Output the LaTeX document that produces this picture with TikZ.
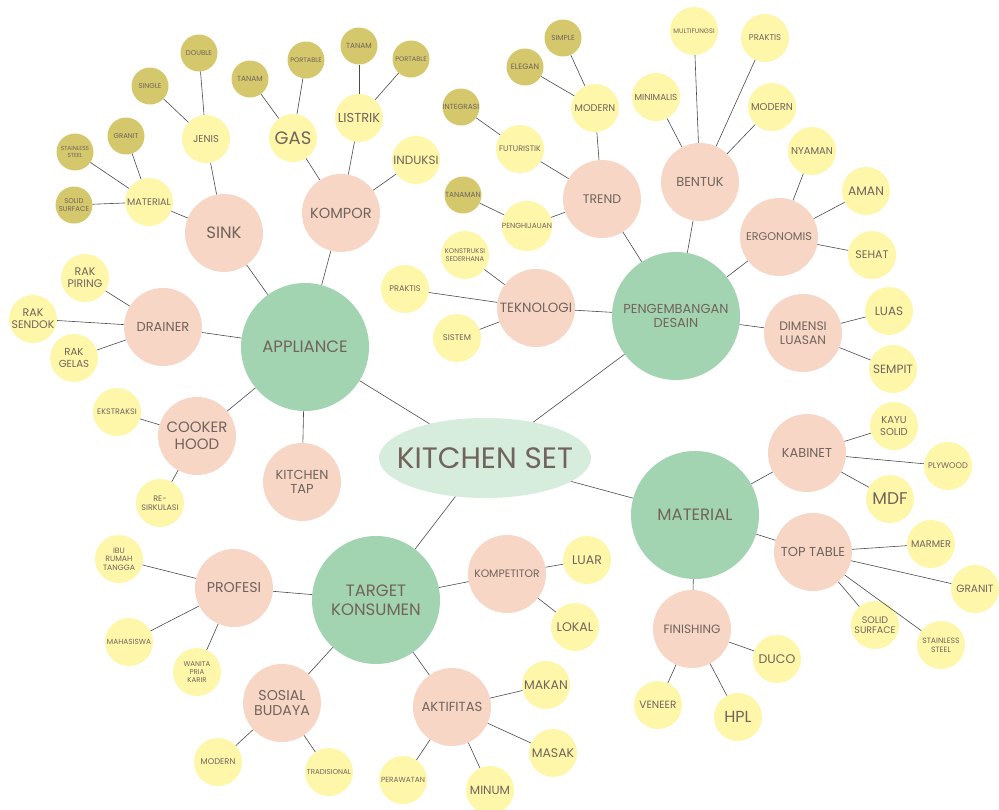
\documentclass[tikz,border=0pt]{standalone}
\usepackage{fontspec}
\setmainfont{Poppins}
\usepackage{xcolor}
\usetikzlibrary{shapes.geometric}
\definecolor{khub}{RGB}{214,236,220}
\definecolor{kgreen}{RGB}{163,212,177}
\definecolor{kpink}{RGB}{247,214,198}
\definecolor{kyellow}{RGB}{254,247,170}
\definecolor{kolive}{RGB}{213,199,108}
\definecolor{ktext}{RGB}{112,100,92}
\definecolor{kline}{RGB}{75,75,75}
\tikzset{fs/.code={\pgfmathsetmacro\fsskip{1.12*#1}\pgfkeysalso{font=\fontsize{#1}{\fsskip}\selectfont}},
bubble/.style={circle, inner sep=0pt, align=center, text=ktext},
hub/.style={ellipse, fill=khub, minimum width=212pt, minimum height=80pt, inner sep=0pt, text=ktext, fs=29.5},
topic/.style={bubble, fill=kgreen, minimum size=128pt, fs=16.5},
branch/.style={bubble, fill=kpink, minimum size=78pt, fs=13},
leaf/.style={bubble, fill=kyellow, minimum size=48pt, fs=9},
twig/.style={bubble, fill=kolive, minimum size=37pt, fs=7},
link/.style={draw=kline, line width=0.6pt}}

\begin{document}
\begin{tikzpicture}[x=1pt, y=-1pt]
\useasboundingbox[fill=white] (0,0) rectangle (999,809);
\node[hub] (hub) at (485,458) {\makebox[0pt]{KITCHEN SET}};
% main topics
\node[topic] (app) at (305,347) {APPLIANCE};
\node[topic, fs=13] (dev) at (676,316) {PENGEMBANGAN\\DESAIN};
\node[topic] (mat) at (695,515) {MATERIAL};
\node[topic] (tgt) at (376,600) {TARGET\\KONSUMEN};
% appliance
\node[branch, fs=16.5] (sink) at (224,233) {SINK};
\node[branch, fs=14.6] (kompor) at (341,213) {KOMPOR};
\node[branch] (drainer) at (163,327) {DRAINER};
\node[branch, fs=15] (hood) at (197,436) {COOKER\\HOOD};
\node[branch] (tap) at (302,482) {KITCHEN\\TAP};
\node[leaf, fs=10] (jenis) at (206,139) {JENIS};
\node[leaf, fs=9.6] (sinkmat) at (149,202) {MATERIAL};
\node[twig] (double) at (199,53) {DOUBLE};
\node[twig] (single) at (150,86) {SINGLE};
\node[twig] (smgranit) at (126,136) {GRANIT};
\node[twig, fs=5.8] (smsteel) at (75,152) {STAINLESS\\STEEL};
\node[twig] (smsolid) at (74,205) {SOLID\\SURFACE};
\node[leaf, fs=18] (gas) at (293,138) {GAS};
\node[leaf, fs=13] (listrik) at (359,118) {LISTRIK};
\node[leaf, fs=12] (induksi) at (416,160) {INDUKSI};
\node[twig, fs=7.4] (gastanam) at (250,79) {TANAM};
\node[twig, fs=6.6] (gasport) at (306,60) {PORTABLE};
\node[twig, fs=7.4] (lstanam) at (359,46) {TANAM};
\node[twig, fs=6.6] (lsport) at (411,59) {PORTABLE};
\node[leaf, fs=11] (piring) at (85,278) {RAK\\PIRING};
\node[leaf, fs=11] (sendok) at (33,319) {RAK\\SENDOK};
\node[leaf, fs=10.2] (gelas) at (74,358) {RAK\\GELAS};
\node[leaf, fs=8] (ekstraksi) at (117,412) {EKSTRAKSI};
\node[leaf, fs=8] (resirk) at (160,503) {RE-\\SIRKULASI};
% pengembangan desain
\node[branch, fs=12.5] (trend) at (602,199) {TREND};
\node[branch] (bentuk) at (700,182) {BENTUK};
\node[branch, fs=11.2] (ergo) at (779,237) {ERGONOMIS};
\node[branch, fs=13.4] (tekno) at (536,308) {TEKNOLOGI};
\node[branch, fs=12.3] (dimensi) at (803,333) {DIMENSI\\LUASAN};
\node[leaf, fs=9.7] (trmodern) at (595,108) {MODERN};
\node[leaf, fs=8] (futur) at (520,149) {FUTURISTIK};
\node[leaf, fs=7.4] (hijau) at (527,226) {PENGHIJAUAN};
\node[twig, fs=7.3] (simple) at (563,38) {SIMPLE};
\node[twig, fs=7.8] (elegan) at (525,67) {ELEGAN};
\node[twig, fs=7.4] (integrasi) at (461,107) {INTEGRASI};
\node[twig, fs=7.4] (tanaman) at (463,195) {TANAMAN};
\node[leaf, fs=6.8] (konstr) at (465,255) {KONSTRUKSI\\SEDERHANA};
\node[leaf, fs=8.2] (tkpraktis) at (405,289) {PRAKTIS};
\node[leaf, fs=8.4] (sistem) at (457,338) {SISTEM};
\node[leaf, fs=8.8] (minimalis) at (656,97) {MINIMALIS};
\node[leaf, fs=6.6] (multi) at (694,31) {MULTIFUNGSI};
\node[leaf, fs=8.4] (bnpraktis) at (765,38) {PRAKTIS};
\node[leaf, fs=10] (bnmodern) at (772,107) {MODERN};
\node[leaf, fs=10] (nyaman) at (812,151) {NYAMAN};
\node[leaf, fs=12.3] (aman) at (866,191) {AMAN};
\node[leaf, fs=11] (sehat) at (872,255) {SEHAT};
\node[leaf, fs=12] (luas) at (889,311) {LUAS};
\node[leaf, fs=12] (sempit) at (893,369) {SEMPIT};
% material
\node[branch, fs=12.9] (kabinet) at (807,453) {KABINET};
\node[branch] (toptable) at (813,552) {TOP TABLE};
\node[branch, fs=12.1] (finishing) at (692,629) {FINISHING};
\node[leaf, fs=10] (kayu) at (894,426) {KAYU\\SOLID};
\node[leaf, fs=8.2] (plywood) at (948,466) {PLYWOOD};
\node[leaf, fs=17] (mdf) at (890,499) {MDF};
\node[leaf, fs=9.7] (marmer) at (931,544) {MARMER};
\node[leaf, fs=10.5] (ttgranit) at (975,589) {GRANIT};
\node[leaf, fs=9.5] (ttsolid) at (875,625) {SOLID\\SURFACE};
\node[leaf, fs=7.7] (ttsteel) at (941,645) {STAINLESS\\STEEL};
\node[leaf, fs=12.5] (duco) at (777,659) {DUCO};
\node[leaf, fs=16] (hpl) at (738,717) {HPL};
\node[leaf, fs=10.5] (veneer) at (658,705) {VENEER};
% target konsumen
\node[branch, fs=10.8] (kompetitor) at (507,574) {KOMPETITOR};
\node[branch, fs=14.2] (profesi) at (234,588) {PROFESI};
\node[branch, fs=14.2] (sosial) at (282,703) {SOSIAL\\BUDAYA};
\node[branch, fs=13.2] (aktif) at (452,707) {AKTIFITAS};
\node[leaf, fs=12.5] (luar) at (587,560) {LUAR};
\node[leaf, fs=12.5] (lokal) at (575,627) {LOKAL};
\node[leaf, fs=12.5] (makan) at (546,685) {MAKAN};
\node[leaf, fs=12.5] (masak) at (553,753) {MASAK};
\node[leaf, fs=12] (minum) at (490,790) {MINUM};
\node[leaf, fs=7.4] (rawat) at (403,780) {PERAWATAN};
\node[leaf, fs=7.1] (tradisi) at (329,772) {TRADISIONAL};
\node[leaf, fs=8.3] (sbmodern) at (218,762) {MODERN};
\node[leaf, fs=7] (karir) at (197,672) {WANITA\\PRIA\\KARIR};
\node[leaf, fs=7.4] (mhs) at (129,642) {MAHASISWA};
\node[leaf, fs=7.7] (ibu) at (119,559) {IBU\\RUMAH\\TANGGA};
% connectors
\foreach \a/\b in {hub/app, hub/dev, hub/mat, hub/tgt,
  app/sink, app/kompor, app/drainer, app/hood, app/tap,
  sink/jenis, sink/sinkmat, jenis/double, jenis/single,
  sinkmat/smgranit, sinkmat/smsteel, sinkmat/smsolid,
  kompor/gas, kompor/listrik, kompor/induksi,
  gas/gastanam, gas/gasport, listrik/lstanam, listrik/lsport,
  drainer/piring, drainer/sendok, drainer/gelas,
  hood/ekstraksi, hood/resirk,
  dev/trend, dev/bentuk, dev/ergo, dev/tekno, dev/dimensi,
  trend/trmodern, trend/futur, trend/hijau,
  trmodern/simple, trmodern/elegan, futur/integrasi, hijau/tanaman,
  bentuk/minimalis, bentuk/multi, bentuk/bnpraktis, bentuk/bnmodern,
  ergo/nyaman, ergo/aman, ergo/sehat,
  tekno/konstr, tekno/tkpraktis, tekno/sistem,
  dimensi/luas, dimensi/sempit,
  mat/kabinet, mat/toptable, mat/finishing,
  kabinet/kayu, kabinet/plywood, kabinet/mdf,
  toptable/marmer, toptable/ttgranit, toptable/ttsolid, toptable/ttsteel,
  finishing/duco, finishing/hpl, finishing/veneer,
  tgt/kompetitor, tgt/profesi, tgt/sosial, tgt/aktif,
  kompetitor/luar, kompetitor/lokal,
  profesi/ibu, profesi/mhs, profesi/karir,
  sosial/sbmodern, sosial/tradisi,
  aktif/makan, aktif/masak, aktif/minum, aktif/rawat}
  \draw[link] (\a) -- (\b);
\end{tikzpicture}
\end{document}
